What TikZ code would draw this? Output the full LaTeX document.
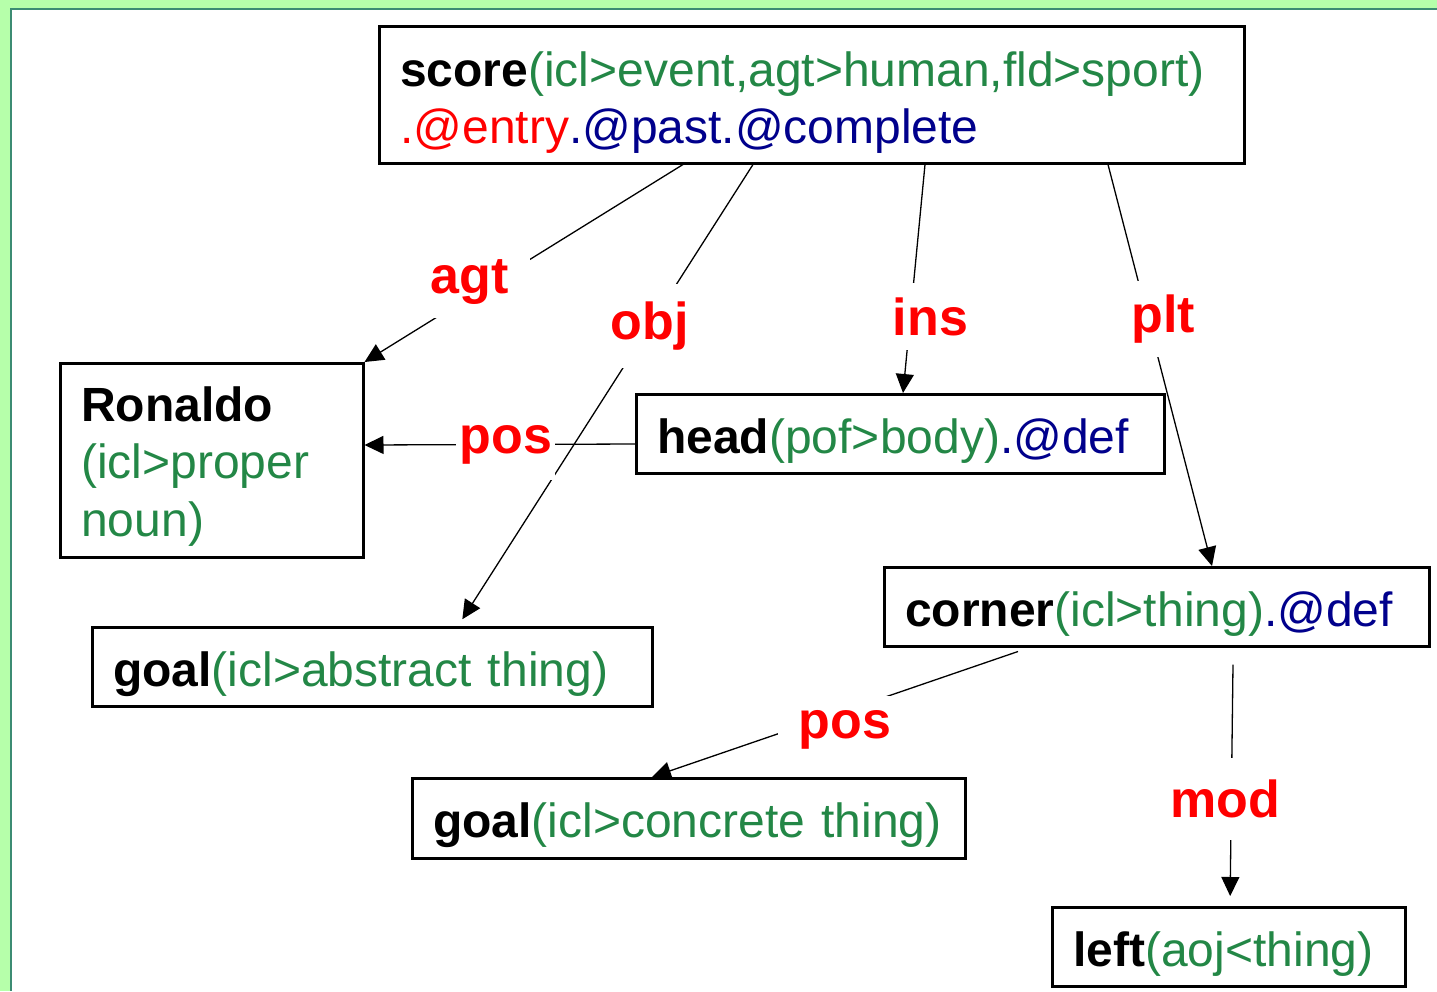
\documentclass[tikz,border=0pt]{standalone}
\usepackage{fontspec}
\setmainfont{Liberation Sans}
\usetikzlibrary{arrows.meta}
\definecolor{bggreen}{RGB}{182,255,170}
\definecolor{rimteal}{RGB}{60,140,115}
\definecolor{uwgreen}{RGB}{35,135,70}
\definecolor{uwnavy}{RGB}{0,0,140}
\newcommand{\gr}[1]{\textcolor{uwgreen}{#1}}
\newcommand{\nv}[1]{\textcolor{uwnavy}{#1}}

\begin{document}
\begin{tikzpicture}[x=1pt,y=-1pt,>={Triangle[length=19pt,width=18pt]}]
\tikzstyle{box}=[draw, line width=2.5pt, anchor=north west, inner xsep=21pt, inner ysep=0pt, align=left, font=\fontsize{48}{57.5}\selectfont, text height=59pt, text depth=20pt]
\tikzstyle{link}=[line width=1.3pt]
\tikzstyle{lab}=[fill=white, inner xsep=21pt, inner ysep=14pt, text=red, font=\fontsize{52}{62}\selectfont\bfseries]
\useasboundingbox (0,0) rectangle (1437,991);
\fill[bggreen] (0,0) rectangle (1437,991);
\fill[white] (11,9) rectangle (1437,991);
\draw[rimteal, line width=2pt] (1437,9) -- (11,9) -- (11,991);
\draw (378,25) node (score) [box, text width=823pt, text height=60pt, text depth=77pt] {\textbf{score}\gr{(icl>event,agt>human,fld>sport)}\\\textcolor{red}{.@entry}\nv{.@past.@complete}};
\draw (59,362) node (ronaldo) [box, text width=261pt, text height=58pt, text depth=136pt] {\textbf{Ronaldo}\\\gr{(icl>proper}\\\gr{noun)}};
\draw (635,393) node (head) [box, text width=486pt] {\textbf{head}\gr{(pof>body)}\nv{.@def}};
\draw (91,626) node (goalA) [box, text width=518pt] {\textbf{goal}\gr{(icl>abstract thing)}};
\draw (883,566) node (corner) [box, text width=503pt] {\textbf{corner}\gr{(icl>thing)}\nv{.@def}};
\draw (411,777) node (goalC) [box, text width=511pt, text depth=21pt] {\textbf{goal}\gr{(icl>concrete thing)}};
\draw (1051,906) node (leftn) [box, text width=311pt] {\textbf{left}\gr{(aoj<thing)}};
\draw[link,->,shorten >=8pt] ([xshift=375pt]score.south west) -- node[lab,pos=.35,inner ysep=18pt] (obj) {obj} ([xshift=367pt]goalA.north west);
\draw[link,->] ([xshift=305pt]score.south west) -- node[lab,pos=.67,yshift=15pt] (agt) {agt} (ronaldo.north east);
\draw[link,->] ([xshift=547pt]score.south west) -- node[lab,pos=.665,xshift=20pt] (ins) {ins} ([xshift=268pt]head.north west);
\draw[link,->] ([xshift=730pt]score.south west) -- node[lab,pos=.385,xshift=15pt] (plt) {plt} ([xshift=329pt]corner.north west);
\draw[link,->] ([yshift=-51pt]head.north west) -- node[lab,pos=.478,inner xsep=3pt,inner ysep=16pt] (pos1) {pos} ([yshift=-83pt]ronaldo.north east);
\draw[link,->] ([xshift=135pt,yshift=-4pt]corner.south west) -- node[lab,pos=.473,yshift=-19pt] (pos2) {pos} ([xshift=241pt]goalC.north west);
\draw[link,->,shorten >=10pt] ([xshift=350pt,yshift=-17pt]corner.south west) -- node[lab,pos=.557,xshift=-6pt,inner ysep=22pt] (mod) {mod} ([xshift=179pt]leftn.north west);
\end{tikzpicture}
\end{document}
